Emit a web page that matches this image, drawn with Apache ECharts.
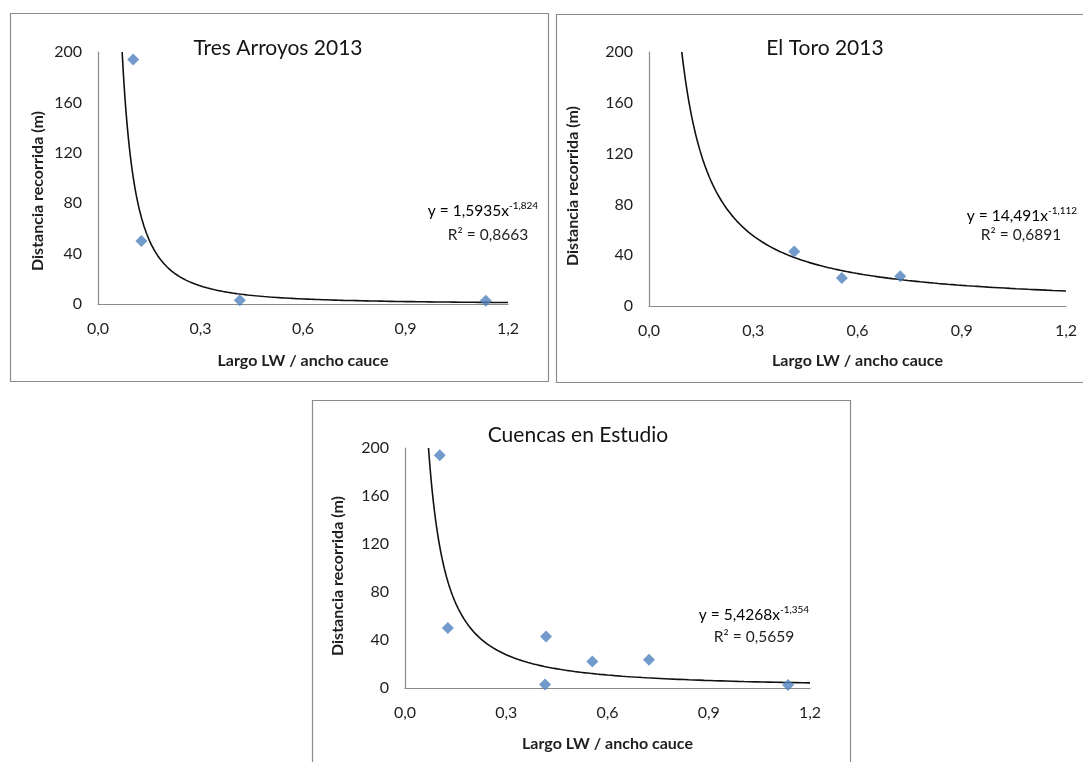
<!DOCTYPE html>
<html>
<head>
<meta charset="utf-8">
<script src="https://cdn.jsdelivr.net/npm/echarts@6/dist/echarts.min.js"></script>
<style>
  html, body { margin: 0; padding: 0; background: #ffffff; }
  #chart { width: 1083px; height: 762px; }
</style>
</head>
<body>
<div id="chart"></div>
<script>
// Panel titles
const panelTitles = ['Tres Arroyos 2013', 'El Toro 2013', 'Cuencas en Estudio'];

// Observations: largo LW / ancho cauce vs distancia recorrida (m)
const tresArroyosX = [0.103, 0.127, 0.415, 1.135];
const tresArroyosY = [194, 50, 3, 2.5];
const elToroX = [0.418, 0.555, 0.723];
const elToroY = [43, 22, 23.5];

// Power trend lines y = a * x^b and their R²
const fitA = [1.5935, 14.491, 5.4268];
const fitB = [-1.824, -1.112, -1.354];
const fitR2 = ['0,8663', '0,6891', '0,5659'];

// Axis ticks
const xTickLabels = ['0,0', '0,3', '0,6', '0,9', '1,2'];
const yTicks = [0, 40, 80, 120, 160, 200];

const xAxisTitle = 'Largo LW / ancho cauce';
const yAxisTitle = 'Distancia recorrida (m)';

// --- build ---
const pairs = (xs, ys) => xs.map((x, i) => [x, ys[i]]);
const panelData = [
  pairs(tresArroyosX, tresArroyosY),
  pairs(elToroX, elToroY),
  pairs(tresArroyosX.concat(elToroX), tresArroyosY.concat(elToroY))
];

const X_MAX = 1.2, Y_MAX = 200;

// Trend curve from where it enters the plot (y = 200) out to x = 1.2
function trendCurve(a, b) {
  const x0 = Math.pow(Y_MAX / a, 1 / b);
  const n = 160, pts = [];
  for (let i = 0; i <= n; i++) {
    const x = x0 * Math.pow(X_MAX / x0, i / n);
    pts.push([x, a * Math.pow(x, b)]);
  }
  return pts;
}

const fmtNum = v => String(v).replace('.', ',');

// Layout of each panel on the page
const layout = [
  { frame: [10, 13, 538, 368], grid: { left: 98, top: 52, width: 410, height: 252 },
    title: [278, 48], yName: [38, 191], eq: [483, 210], r2: [488, 235], nameGap: 49 },
  { frame: [556, 14, 560, 368], grid: { left: 649, top: 52, width: 417, height: 254 },
    title: [825, 48], yName: [573, 186], eq: [1022, 215], r2: [1021, 235], nameGap: 47 },
  { frame: [312, 400, 538, 400], grid: { left: 405, top: 448, width: 405, height: 240 },
    title: [578, 435], yName: [338, 576], eq: [754, 614], r2: [754, 637], nameGap: 48 }
];

const FONT = 'Lato, "Open Sans", sans-serif';
const AXIS_COLOR = '#8a8a8a';
const TEXT_COLOR = '#1f1f1f';

const grids = [], xAxes = [], yAxes = [], series = [], graphics = [];

layout.forEach((L, i) => {
  grids.push(Object.assign({ containLabel: false }, L.grid));

  xAxes.push({
    type: 'value', gridIndex: i, min: 0, max: X_MAX, interval: 0.3,
    splitLine: { show: false }, axisTick: { show: false },
    axisLine: { show: true, onZero: false, lineStyle: { color: AXIS_COLOR, width: 1.2 } },
    axisLabel: {
      margin: 17, color: TEXT_COLOR, fontFamily: FONT, fontSize: 16,
      formatter: v => xTickLabels[Math.round(v / 0.3)]
    },
    name: xAxisTitle, nameLocation: 'middle', nameGap: L.nameGap,
    nameTextStyle: { color: TEXT_COLOR, fontFamily: FONT, fontSize: 16, fontWeight: 'bold' }
  });

  yAxes.push({
    type: 'value', gridIndex: i, min: 0, max: Y_MAX, interval: 40,
    splitLine: { show: false }, axisTick: { show: false },
    axisLine: { show: true, lineStyle: { color: AXIS_COLOR, width: 1.2 } },
    axisLabel: {
      margin: 16, color: TEXT_COLOR, fontFamily: FONT, fontSize: 16,
      formatter: v => (yTicks.indexOf(v) >= 0 ? String(v) : '')
    }
  });

  series.push({
    type: 'line', xAxisIndex: i, yAxisIndex: i, data: trendCurve(fitA[i], fitB[i]),
    showSymbol: false, smooth: false, silent: true, z: 2,
    lineStyle: { color: '#111111', width: 1.6 }
  });
  series.push({
    type: 'scatter', xAxisIndex: i, yAxisIndex: i, data: panelData[i],
    symbol: 'diamond', symbolSize: 12, z: 3,
    itemStyle: { color: '#4f81bd' }
  });

  // panel frame
  graphics.push({
    type: 'rect', silent: true, z: 0,
    shape: { x: L.frame[0] + 0.5, y: L.frame[1] + 0.5, width: L.frame[2], height: L.frame[3] },
    style: { fill: 'none', stroke: '#8c8c8c', lineWidth: 1.2 }
  });
  // title
  graphics.push({
    type: 'text', x: L.title[0], y: L.title[1], z: 5,
    style: { text: panelTitles[i], align: 'center', verticalAlign: 'middle',
             font: '21px ' + FONT, fill: '#141414' }
  });
  // y axis title
  graphics.push({
    type: 'text', x: L.yName[0], y: L.yName[1], rotation: Math.PI / 2, z: 5,
    style: { text: yAxisTitle, align: 'center', verticalAlign: 'middle',
             font: 'bold 16px ' + FONT, fill: TEXT_COLOR }
  });
  // trend equation and R²
  graphics.push({
    type: 'text', x: L.eq[0], y: L.eq[1], z: 5,
    style: {
      text: '{m|y = ' + fmtNum(fitA[i]) + 'x}{s|' + fmtNum(fitB[i]) + '}',
      align: 'center', verticalAlign: 'middle',
      rich: {
        m: { fontFamily: FONT, fontSize: 15.5, color: TEXT_COLOR, verticalAlign: 'bottom', lineHeight: 18 },
        s: { fontFamily: FONT, fontSize: 10, color: TEXT_COLOR, verticalAlign: 'top', lineHeight: 18 }
      }
    }
  });
  graphics.push({
    type: 'text', x: L.r2[0], y: L.r2[1], z: 5,
    style: { text: 'R² = ' + fitR2[i], align: 'center', verticalAlign: 'middle',
             font: '15.5px ' + FONT, fill: TEXT_COLOR }
  });
});

const chart = echarts.init(document.getElementById('chart'), null, { renderer: 'canvas' });
chart.setOption({
  backgroundColor: '#ffffff',
  animation: false,
  grid: grids,
  xAxis: xAxes,
  yAxis: yAxes,
  series: series,
  graphic: graphics
});
</script>
</body>
</html>
